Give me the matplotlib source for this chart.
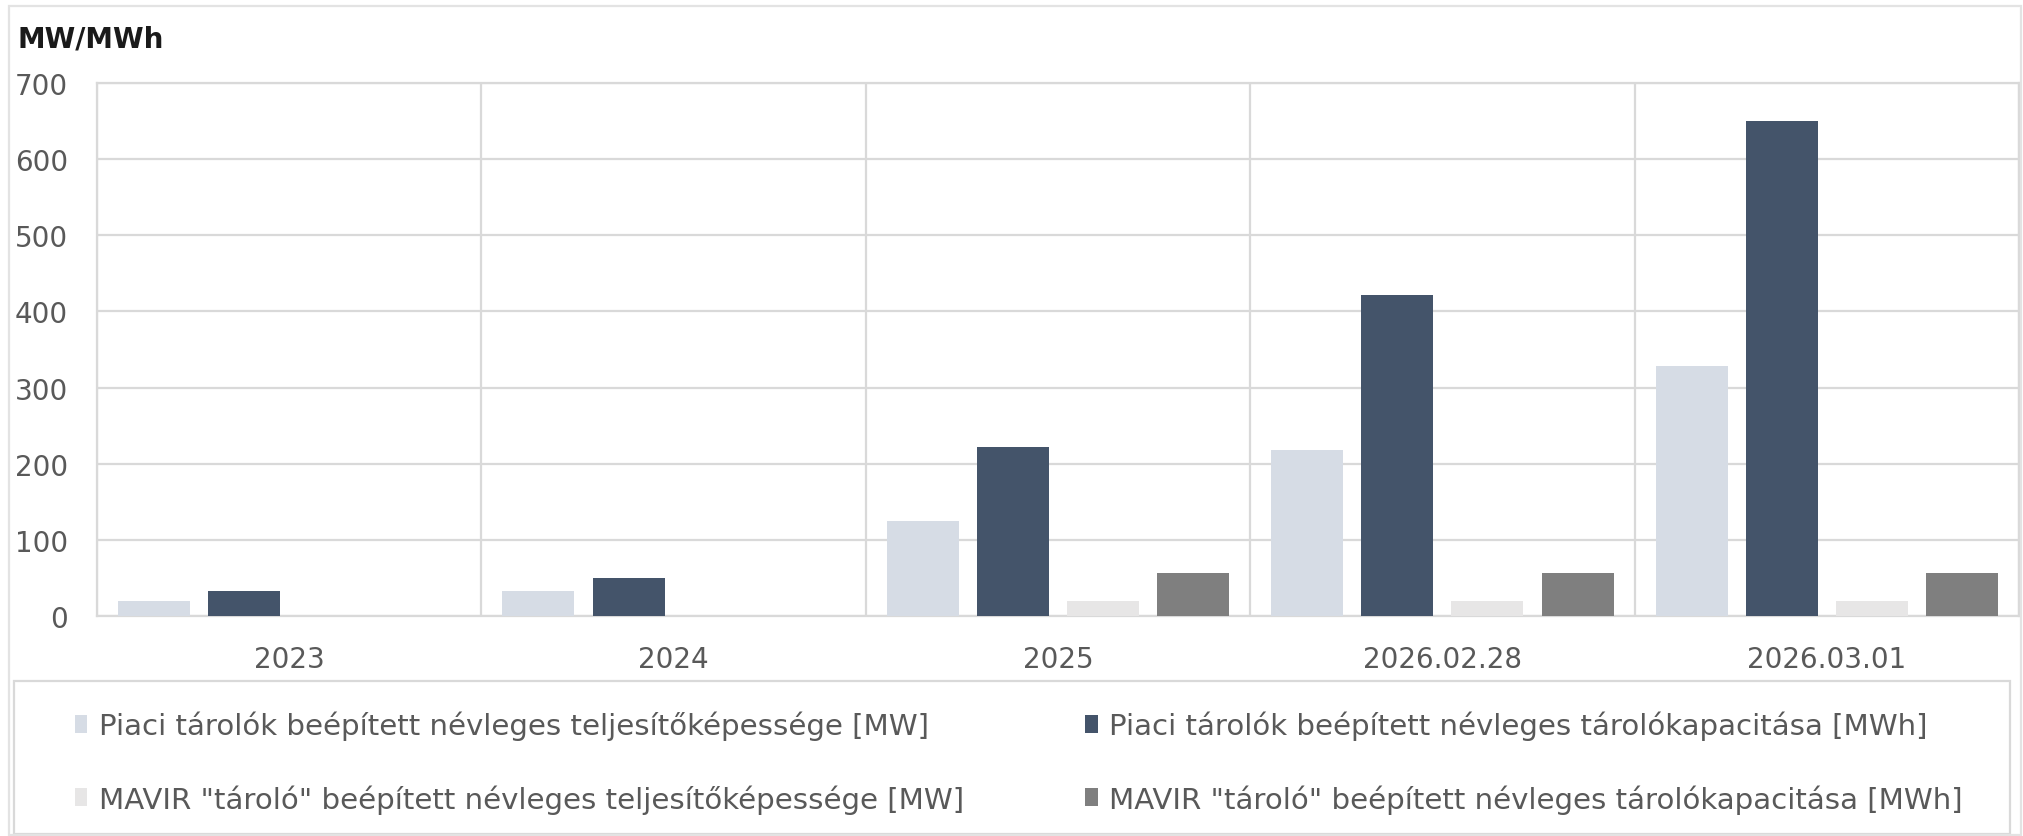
import matplotlib
matplotlib.use('Agg')
import matplotlib.pyplot as plt
import numpy as np
from matplotlib.patches import Rectangle

categories = ['2023', '2024', '2025', '2026.02.28', '2026.03.01']
piaci_mw = [20, 33, 125, 218, 328]
piaci_mwh = [33, 50, 222, 422, 650]
mavir_mw = [0, 0, 20, 20, 20]
mavir_mwh = [0, 0, 57, 57, 57]
series_labels = [
    'Piaci tárolók beépített névleges teljesítőképessége [MW]',
    'Piaci tárolók beépített névleges tárolókapacitása [MWh]',
    'MAVIR "tároló" beépített névleges teljesítőképessége [MW]',
    'MAVIR "tároló" beépített névleges tárolókapacitása [MWh]',
]
y_ticks = [0, 100, 200, 300, 400, 500, 600, 700]
unit_label = 'MW/MWh'

colors = ['#D6DCE5', '#44546A', '#E7E6E6', '#7F7F7F']
grid_c = '#D9D9D9'
text_c = '#595959'

W, H = 2023, 837
fig = plt.figure(figsize=(W / 100, H / 100), dpi=100)
plt.rcParams['font.family'] = ['DejaVu Sans']

ax = fig.add_axes([97 / W, 1 - 617 / H, (2019 - 97) / W, (617 - 84) / H])
x = np.arange(len(categories))
bw = 72 / 384
step = 90 / 384
offsets = [-1.5 * step, -0.5 * step, 0.5 * step, 1.5 * step]
series = [piaci_mw, piaci_mwh, mavir_mw, mavir_mwh]
handles = []
for vals, off, col, lab in zip(series, offsets, colors, series_labels):
    b = ax.bar(x + off, vals, width=bw, color=col, label=lab, zorder=3)
    handles.append(b)

ax.set_xlim(-0.5, len(categories) - 0.5)
ax.set_ylim(0, 700)
ax.set_yticks(y_ticks)
ax.set_xticks(x)
ax.set_xticklabels(categories)
ax.set_xticks(np.arange(-0.5, len(categories)), minor=True)
ax.set_axisbelow(True)
ax.yaxis.grid(True, color=grid_c, lw=1.6)
ax.xaxis.grid(True, which='minor', color=grid_c, lw=1.6)
ax.xaxis.grid(False, which='major')
for s in ax.spines.values():
    s.set_color(grid_c)
    s.set_linewidth(1.6)
ax.tick_params(axis='both', which='both', length=0, labelsize=20, labelcolor=text_c)
ax.tick_params(axis='y', pad=21)
ax.tick_params(axis='x', pad=21)

fig.text(18 / W, 1 - 40 / H, unit_label, fontsize=20, fontweight='bold',
         color='#1a1a1a', ha='left', va='center')

# legend
order = [0, 2, 1, 3]
leg = fig.legend([handles[i] for i in order], [series_labels[i] for i in order],
                 ncol=2, mode='expand', loc='upper left',
                 bbox_to_anchor=(75 / W, 1 - 720 / H, (1963 - 75) / W, 0.01),
                 frameon=False, borderpad=0, borderaxespad=0, fontsize=21.1,
                 labelcolor=text_c, handlelength=0.42, handleheight=0.55,
                 handletextpad=0.4, labelspacing=1.5)

fig.patches.append(Rectangle((14 / W, 1 - 835 / H), (2010 - 14) / W, (835 - 682) / H,
                             transform=fig.transFigure, fill=False,
                             edgecolor=grid_c, lw=1.6))
fig.patches.append(Rectangle((9 / W, 1 - 836 / H), (2021 - 9) / W, (836 - 7) / H,
                             transform=fig.transFigure, fill=False,
                             edgecolor='#E3E3E3', lw=1.6))

fig.savefig('out.png', dpi=100)
